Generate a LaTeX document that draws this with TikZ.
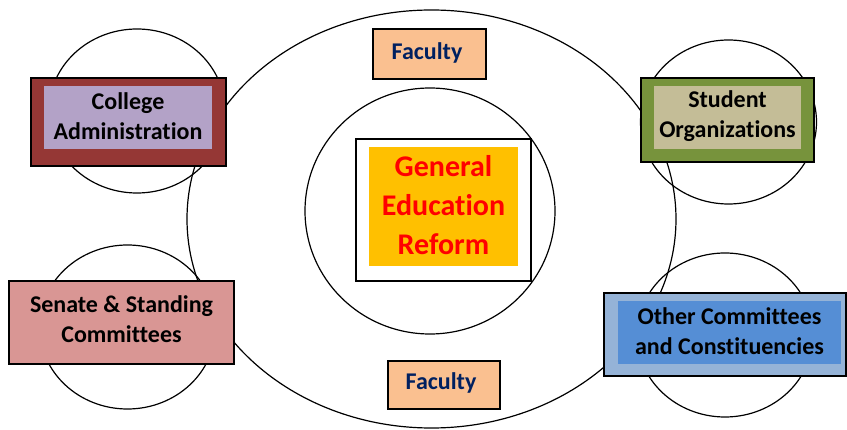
\documentclass[tikz,border=0pt]{standalone}
\usepackage{fontspec}
\setmainfont{Carlito}[Ligatures=NoCommon]
\usetikzlibrary{shapes.geometric}

\definecolor{adminred}{HTML}{953735}
\definecolor{adminlav}{HTML}{B3A2C7}
\definecolor{studgreen}{HTML}{77933C}
\definecolor{studtan}{HTML}{C4BD97}
\definecolor{senatepink}{HTML}{D99694}
\definecolor{otherlight}{HTML}{95B3D7}
\definecolor{otherblue}{HTML}{558ED5}
\definecolor{facpeach}{HTML}{FAC090}
\definecolor{facnavy}{HTML}{002060}
\definecolor{reformgold}{HTML}{FFC000}
\definecolor{reformred}{HTML}{FF0000}

\tikzset{
  ring/.style={draw=black, line width=1.2pt, ellipse, inner sep=0pt},
  outerbox/.style={draw=black, line width=1.4pt, rectangle, inner sep=0pt},
  innerbox/.style={rectangle, inner sep=0pt},
  label24/.style={font=\fontsize{24}{30}\selectfont\bfseries, align=center, text=black},
  factext/.style={font=\fontsize{24}{28}\selectfont\bfseries, text=facnavy},
}

\begin{document}
\begin{tikzpicture}[x=1pt, y=-1pt]
  \useasboundingbox (0,0) rectangle (847,430);

  % circles and the large ellipse
  \node[ring, minimum width=489pt, minimum height=418pt] (big) at (431.5,219) {};
  \node[ring, minimum width=250pt, minimum height=246pt] (core) at (430,211) {};
  \node[ring, minimum width=176pt, minimum height=164pt] (cadmin) at (137,111) {};
  \node[ring, minimum width=176pt, minimum height=164pt] (cstud) at (728.5,122) {};
  \node[ring, minimum width=176pt, minimum height=164pt] (csen) at (127.5,327) {};
  \node[ring, minimum width=176pt, minimum height=164pt] (coth) at (725,335) {};

  % faculty boxes
  \node[outerbox, fill=facpeach, minimum width=113pt, minimum height=50pt] (factop) at (429.5,54) {};
  \node[factext] (factoptxt) at (427,53) {Faculty};
  \node[outerbox, fill=facpeach, minimum width=112pt, minimum height=48pt] (facbot) at (444,385) {};
  \node[factext] (facbottxt) at (441,383) {Faculty};

  % central topic
  \node[outerbox, fill=white, minimum width=175pt, minimum height=142pt] (reformframe) at (443.5,210) {};
  \node[innerbox, fill=reformgold, minimum width=149pt, minimum height=119pt] (reformfill) at (443.5,206.5) {};
  \node[font=\fontsize{30}{39}\selectfont\bfseries, align=center, text=reformred] (reform) at (443.5,205) {General\\Education\\Reform};

  % college administration
  \node[outerbox, fill=adminred, minimum width=195pt, minimum height=88pt] (admin) at (128.5,122) {};
  \node[innerbox, fill=adminlav, minimum width=168pt, minimum height=63pt] (adminin) at (128,117.5) {};
  \node[label24] (admintxt) at (128,116) {College\\Administration};

  % student organizations
  \node[outerbox, fill=studgreen, minimum width=173pt, minimum height=84pt] (stud) at (727.5,120) {};
  \node[innerbox, fill=studtan, minimum width=147pt, minimum height=63pt] (studin) at (727.5,117.5) {};
  \node[label24] (studtxt) at (727.5,116) {Student\\Organizations};

  % senate and standing committees
  \node[outerbox, fill=senatepink, minimum width=225pt, minimum height=83pt] (senate) at (121.5,322.5) {};
  \node[label24] (senatetxt) at (121.5,319) {Senate \& Standing\\Committees};

  % other committees
  \node[outerbox, fill=otherlight, minimum width=242pt, minimum height=83pt] (other) at (725,334.5) {};
  \node[innerbox, fill=otherblue, minimum width=223pt, minimum height=63pt] (otherin) at (729.5,332.5) {};
  \node[label24] (othertxt) at (729.5,331) {Other Committees\\and Constituencies};
\end{tikzpicture}
\end{document}
